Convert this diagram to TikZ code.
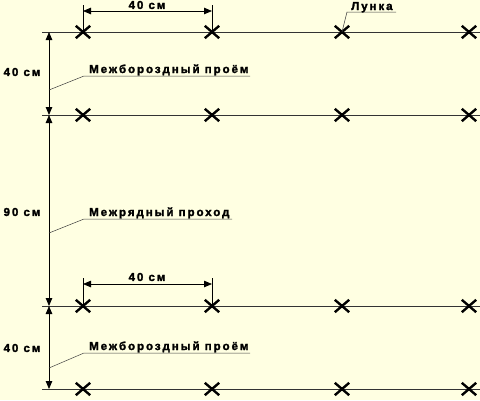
\documentclass[tikz,border=0pt]{standalone}
\usepackage{fontspec}
\setmainfont{Liberation Sans}
\usetikzlibrary{arrows.meta,shapes.misc}
\definecolor{bg}{RGB}{255,255,226}
\begin{document}
\begin{tikzpicture}[x=1pt,y=-1pt,
  lbl/.style={font=\bfseries\fontsize{11.5}{12}\selectfont\addfontfeature{LetterSpace=17,FakeBold=2.2}, inner sep=0pt},
  row/.style={line width=0.8pt, draw=black!80},
  tip/.tip={Triangle[length=8pt,width=6.5pt]},
  dim/.style={line width=0.8pt, tip-tip},
  ext/.style={line width=0.6pt},
  xmark/.style={draw, cross out, minimum width=12pt, minimum height=10pt, inner sep=0pt, line width=2.4pt},
  leader/.style={line width=0.5pt, draw=black!75}]
\fill[bg] (0,0) rectangle (480,400);
\useasboundingbox (0,0) rectangle (480,400);
% rows
\foreach \r/\y in {1/32,2/115,3/306,4/389}{
  \coordinate (rs\r) at (42,\y);
  \coordinate (re\r) at (480,\y);
  \draw[row] (rs\r) -- (re\r);
  \foreach \c/\x in {1/83,2/212,3/342,4/469}{
    \node[xmark] (x\r\c) at (\x,\y) {};
  }
}
% vertical dimension
\coordinate (v1) at (49,32);
\coordinate (v2) at (49,115);
\coordinate (v3) at (49,306);
\coordinate (v4) at (49,389);
\draw[dim] (v1) -- (v2);
\draw[dim] (v2) -- (v3);
\draw[dim] (v3) -- (v4);
\node[lbl] (d1) at (22,72) {40 см};
\node[lbl] (d2) at (22,212) {90 см};
\node[lbl] (d3) at (22,348) {40 см};
% top horizontal dimension
\coordinate (e1) at (83,5);
\coordinate (e2) at (212,5);
\coordinate (h1) at (83,11);
\coordinate (h2) at (212,11);
\draw[ext] (e1) -- (x11.center);
\draw[ext] (e2) -- (x12.center);
\draw[dim] (h1) -- (h2);
\node[lbl] (t1) at (147,5) {40 см};
% lower horizontal dimension
\coordinate (e3) at (83,278);
\coordinate (e4) at (212,278);
\coordinate (h3) at (83,284);
\coordinate (h4) at (212,284);
\draw[ext] (e3) -- (x31.center);
\draw[ext] (e4) -- (x32.center);
\draw[dim] (h3) -- (h4);
\node[lbl] (t2) at (147,277) {40 см};
% leaders
\coordinate (a1) at (49,90);
\coordinate (b1) at (84,76);
\coordinate (c1) at (250,76);
\draw[leader] (a1) -- (b1) -- (c1);
\node[lbl, anchor=base west] (m1) at (89,73) {Межбороздный проём};
\coordinate (a2) at (49,233);
\coordinate (b2) at (84,219);
\coordinate (c2) at (232,219);
\draw[leader] (a2) -- (b2) -- (c2);
\node[lbl, anchor=base west] (m2) at (89,216) {Межрядный проход};
\coordinate (a3) at (49,368);
\coordinate (b3) at (84,353);
\coordinate (c3) at (250,353);
\draw[leader] (a3) -- (b3) -- (c3);
\node[lbl, anchor=base west] (m3) at (89,350) {Межбороздный проём};
\coordinate (b4) at (347,12);
\coordinate (c4) at (396,12);
\draw[leader] (x13.center) -- (b4) -- (c4);
\node[lbl, anchor=base west] (m4) at (351,10) {Лунка};
\end{tikzpicture}
\end{document}
